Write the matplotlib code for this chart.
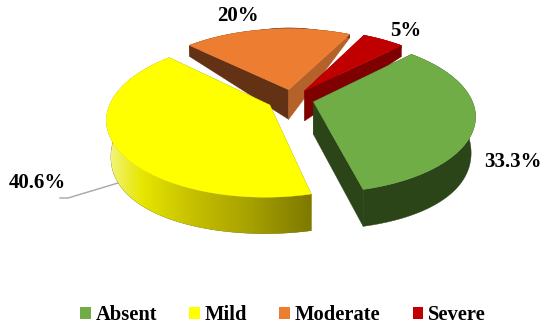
import numpy as np
import matplotlib
matplotlib.use('Agg')
import matplotlib.pyplot as plt
from matplotlib.colors import LinearSegmentedColormap
from matplotlib.patches import Patch

categories = ['Absent', 'Mild', 'Moderate', 'Severe']
values = [33.3, 40.6, 20, 5]
labels = ['33.3%', '40.6%', '20%', '5%']
colors = ['#70ad47', '#ffff00', '#ed7d31', '#c00000']
side_first = ['#2b4519', '#7f7a00', '#633114', '#7f0000']
side_last = ['#2b4519', '#7f7a00', '#b5622a', '#7f0000']

plt.rcParams['font.family'] = ['Liberation Serif', 'DejaVu Serif']
plt.rcParams['font.weight'] = 'bold'

# fake 3d projection, fitted by eye (pixels)
cx, cy = 292, 99
R, k, persp = 158, 0.47, 0.17
explode = [0.14, 0.16, 0.13, 0.14]
start = 45
zorders = [3, 4, 1, 2]
bottom_shrink = 0.025


def project(x, y):
    s = 1 / (1 + persp * y)
    return cx + R * s * x, cy - R * k * s * y


def depth(y):
    return 32 - 16.3 * y - 11.3 * y ** 2


def draw_wedge(ax, a0, a1, i):
    z = zorders[i]
    mid = np.radians((a0 + a1) / 2)
    ox, oy = explode[i] * np.cos(mid), explode[i] * np.sin(mid)
    t = np.radians(np.linspace(a0, a1, 120))
    ys = oy + np.sin(t)
    px, py = project(ox + np.cos(t), ys)
    d = depth(ys)
    tx, ty = project(ox, oy)
    td = depth(oy)

    # flat faces going in to the tip
    ax.fill([tx, px[0], px[0], tx], [ty, py[0], py[0] + d[0], ty + td],
            color=side_first[i], lw=0.3, zorder=z)
    ax.fill([tx, px[-1], px[-1], tx], [ty, py[-1], py[-1] + d[-1], ty + td],
            color=side_last[i], lw=0.3, zorder=z)

    # outer rim, the bottom edge sits a bit further away so it pulls inwards
    low_x = cx + (px - cx) * (1 - bottom_shrink * np.cos(t) ** 2)
    rim_x = np.r_[px, low_x[::-1]]
    rim_y = np.r_[py, (py + d)[::-1]]
    rim = ax.fill(rim_x, rim_y, color=side_first[i], lw=0.3, zorder=z)[0]
    if i == 1:
        # the yellow one shades from pale on the left to olive on the right
        cmap = LinearSegmentedColormap.from_list(
            'rim', ['#f7f79a', '#e6e600', '#c6c000', '#a8a200', '#7f7a00'])
        grad = np.linspace(0, 1, 256).reshape(1, -1) ** 0.8
        im = ax.imshow(grad, cmap=cmap, aspect='auto', zorder=z,
                       extent=[px.min(), px.max(), rim_y.max(), rim_y.min()])
        im.set_clip_path(rim)

    ax.fill(np.r_[tx, px], np.r_[ty, py], color=colors[i], lw=0.3, zorder=z + 0.5)


fig = plt.figure(figsize=(5.5, 3.32), dpi=100)
ax = fig.add_axes([0, 0, 1, 1])

sweep = np.array(values) / sum(values) * 360
a = start
for i, sw in enumerate(sweep):
    draw_wedge(ax, a, a - sw, i)
    a -= sw

ax.set_xlim(0, 550)
ax.set_ylim(332, 0)
ax.axis('off')

# leader line for the Mild label
ax.plot([118, 68, 60], [183, 198, 198], color='#a6a6a6', lw=1, zorder=1)

ax.text(513, 162, labels[0], fontsize=15, ha='center', va='center')
ax.text(37, 183, labels[1], fontsize=15, ha='center', va='center')
ax.text(238, 16, labels[2], fontsize=15, ha='center', va='center')
ax.text(406, 31, labels[3], fontsize=15, ha='center', va='center')

handles = [Patch(facecolor=c, edgecolor='none', label=n) for c, n in zip(colors, categories)]
ax.legend(handles=handles, ncol=4, frameon=False, fontsize=14.8,
          loc='center', bbox_to_anchor=(283, 315.5), bbox_transform=ax.transData,
          handlelength=0.52, handleheight=0.52, handletextpad=0.25,
          columnspacing=1.55, borderpad=0, borderaxespad=0)

fig.savefig('out.png', dpi=100)
